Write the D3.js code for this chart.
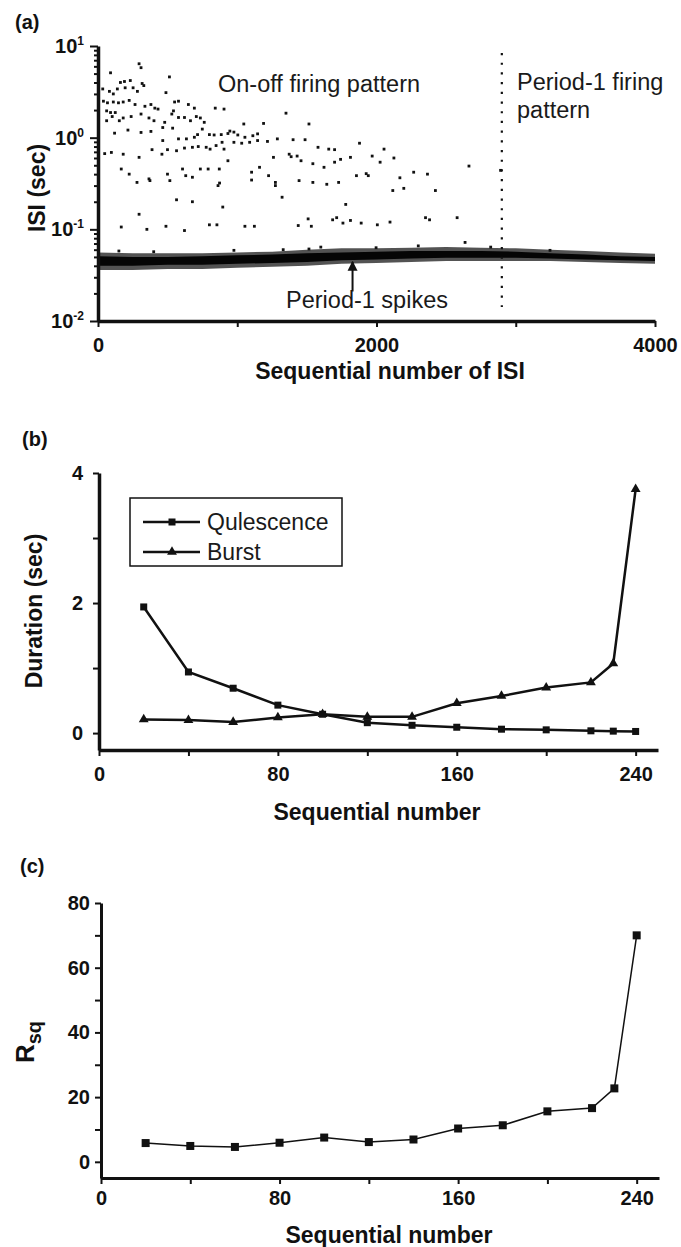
<!DOCTYPE html>
<html lang="en">
<head>
<meta charset="UTF-8" />
<title>ISI firing patterns</title>
<style>
  body { margin: 0; background: #fff; }
  svg { display: block; font-family: "Liberation Sans", Arial, sans-serif; }
  .tick text { font-weight: bold; font-size: 20px; fill: #111; }
  .axis path, .axis line { stroke: #111; }
</style>
<script src="https://d3js.org/d3.v7.min.js"></script>
</head>
<body>
<script>
// ---- panel (a): long ISIs of the on-off pattern, [sequence number, ISI (sec)]
const onOffIsi = [
  [295,6.4],[309,5.8],[90,5.1],[513,4.6],[232,4.2],[161,4.0],[190,4.1],[317,3.9],[329,3.7],[488,3.1],
  [34,3.4],[139,3.4],[82,3.2],[110,3.0],[195,3.5],[252,3.5],[283,3.2],[39,2.5],[68,2.4],[110,2.45],
  [147,2.4],[181,2.45],[224,2.55],[266,2.3],[337,2.2],[380,2.3],[408,2.1],[431,2.05],[550,2.45],[578,2.5],
  [649,2.3],[692,2.1],[842,2.1],[905,2.05],[542,1.96],[530,1.81],[62,1.96],[90,1.88],[124,1.88],[62,1.53],
  [153,1.53],[102,1.7],[181,1.64],[238,1.7],[309,1.81],[366,1.64],[402,1.53],[479,1.47],[578,1.66],[621,1.66],
  [664,1.53],[706,1.7],[735,1.64],[763,1.47],[749,1.24],[1350,1.85],[1047,1.41],[1189,1.43],[1515,1.41],[119,1.12],
  [215,1.21],[309,1.14],[380,1.17],[465,1.29],[536,1.27],[465,0.93],[578,0.97],[635,0.97],[692,1.01],[715,1.08],
  [800,1.08],[834,1.07],[885,1.08],[933,1.11],[947,1.18],[976,1.15],[1004,1.07],[1055,1.01],[1112,1.05],[1146,1.10],
  [1288,0.97],[1401,0.95],[1487,0.95],[96,0.69],[48,0.67],[181,0.66],[295,0.61],[388,0.74],[459,0.66],[499,0.74],
  [564,0.72],[621,0.77],[678,0.785],[720,0.80],[777,0.785],[805,0.75],[848,0.82],[891,0.89],[905,0.75],[976,0.89],
  [1032,0.87],[1089,0.89],[1146,0.93],[1217,0.91],[1260,0.61],[1373,0.66],[1430,0.63],[1580,0.785],[1657,0.75],[1699,0.74],
  [1387,0.62],[1458,0.56],[1543,0.52],[1623,0.475],[1699,0.54],[1742,0.58],[1813,0.61],[1878,0.87],[1969,0.63],[2026,0.54],
  [2054,0.75],[2125,0.60],[167,0.455],[224,0.40],[280,0.325],[366,0.355],[499,0.40],[516,0.34],[607,0.455],[630,0.385],
  [678,0.37],[735,0.455],[791,0.455],[862,0.30],[871,0.455],[933,0.56],[1103,0.42],[1103,0.345],[1160,0.475],[1225,0.385],
  [1274,0.325],[1274,0.30],[1444,0.34],[1543,0.325],[1643,0.31],[1728,0.325],[1856,0.385],[1926,0.405],[1941,0.385],[2168,0.365],
  [2267,0.42],[2366,0.40],[2664,0.49],[2891,0.44],[2117,0.265],[2196,0.28],[2423,0.265],[1322,0.224],
  [167,0.106],[295,0.146],[351,0.100],[488,0.108],[621,0.097],[800,0.112],[854,0.112],[1055,0.108],[1123,0.108],[1438,0.110],
  [1509,0.13],[1532,0.108],[1685,0.127],[1714,0.134],[1759,0.117],[1813,0.125],[1890,0.117],[2006,0.112],[2097,0.12],[2352,0.134],
  [2381,0.127],[2579,0.134],[1779,0.187],[564,0.21],[678,0.20],[896,0.175],[373,0.34],[873,0.32]
];

// dense period-1 band, envelope read every 250 ISIs
const bandSeq     = [0,250,500,750,1000,1250,1500,1750,2000,2250,2500,2750,3000,3250,3500,3750,4000];
const bandOuterHi = [0.056,0.055,0.055,0.055,0.056,0.057,0.060,0.062,0.062,0.063,0.064,0.063,0.062,0.060,0.058,0.056,0.054];
const bandOuterLo = [0.036,0.036,0.037,0.037,0.038,0.039,0.040,0.042,0.043,0.044,0.045,0.045,0.045,0.045,0.044,0.043,0.042];
const bandCoreHi  = [0.051,0.050,0.050,0.051,0.052,0.053,0.055,0.056,0.057,0.058,0.058,0.058,0.057,0.055,0.053,0.051,0.050];
const bandCoreLo  = [0.040,0.040,0.041,0.041,0.042,0.043,0.044,0.046,0.047,0.048,0.049,0.049,0.049,0.048,0.047,0.046,0.045];
const bandOutliers = [[150,0.058],[400,0.057],[976,0.059],[1330,0.060],[1515,0.061],[1600,0.064],[1997,0.063],
                      [2300,0.066],[2636,0.072],[2820,0.064],[3246,0.059]];

const boundarySeq = 2900;
const boundaryIsi = [8.4, 0.0142];
const arrowSeq = 1828;
const arrowIsi = [0.021, 0.0442];

const isiXTicks = [0,1000,2000,3000,4000];
const isiXLabels = [0,2000,4000];
const isiDecades = [0.01,0.1,1,10];

// ---- panel (b) and (c)
const seqNumbers = [20,40,60,80,100,120,140,160,180,200,220,230,240];
const quiescence = [1.94,0.94,0.69,0.43,0.29,0.16,0.12,0.09,0.06,0.05,0.035,0.03,0.025];
const burst      = [0.21,0.20,0.17,0.24,0.29,0.25,0.25,0.46,0.57,0.70,0.78,1.07,3.75];
const rsq        = [5.8,4.9,4.6,5.9,7.5,6.1,6.9,10.3,11.3,15.6,16.6,22.7,70.0];

const seqTicks = [0,40,80,120,160,200,240];
const seqLabels = [0,80,160,240];
const durTicks = [0,1,2,3,4];
const durLabels = [0,2,4];
const rsqTicks = [0,10,20,30,40,50,60,70,80];
const rsqLabels = [0,20,40,60,80];

const svg = d3.select("body").append("svg")
    .attr("width", 681)
    .attr("height", 1247);

function styleAxis(g, w) {
  g.attr("class", "axis");
  g.select(".domain").attr("stroke-width", w);
  g.selectAll(".tick line").attr("stroke-width", 2);
}

function panelLabel(txt, x, y) {
  svg.append("text").attr("x", x).attr("y", y)
    .attr("font-size", 20).attr("font-weight", "bold").attr("fill", "#111")
    .text(txt);
}

function xTitle(txt, x, y) {
  svg.append("text").attr("x", x).attr("y", y)
    .attr("text-anchor", "middle").attr("font-size", 23).attr("font-weight", "bold").attr("fill", "#111")
    .text(txt);
}

function yTitle(txt, x, y) {
  return svg.append("text").attr("transform", `translate(${x},${y}) rotate(-90)`)
    .attr("text-anchor", "middle").attr("font-size", 23).attr("font-weight", "bold").attr("fill", "#111")
    .text(txt);
}

// ================= (a) =================
const xA = d3.scaleLinear().domain([0, 4000]).range([98, 655]);
const yA = d3.scaleLog().domain([0.01, 10]).range([321, 46]);

panelLabel("(a)", 15, 29);

const band = bandSeq.map((s, i) => ({ seq: s, oHi: bandOuterHi[i], oLo: bandOuterLo[i], cHi: bandCoreHi[i], cLo: bandCoreLo[i] }));
svg.append("path").datum(band)
  .attr("fill", "#111").attr("opacity", 0.72)
  .attr("d", d3.area().x(d => xA(d.seq)).y0(d => yA(d.oLo)).y1(d => yA(d.oHi)));
svg.append("path").datum(band)
  .attr("fill", "#050505")
  .attr("d", d3.area().x(d => xA(d.seq)).y0(d => yA(d.cLo)).y1(d => yA(d.cHi)));

svg.append("g").selectAll("rect")
  .data(onOffIsi.concat(bandOutliers))
  .join("rect")
  .attr("x", d => xA(d[0]) - 1.4)
  .attr("y", d => yA(d[1]) - 1.4)
  .attr("width", 2.8).attr("height", 2.8)
  .attr("fill", "#111");

svg.append("path")
  .datum(boundaryIsi)
  .attr("fill", "none").attr("stroke", "#111").attr("stroke-width", 2.2)
  .attr("stroke-dasharray", "2.2,7.5")
  .attr("d", d3.line().x(() => xA(boundarySeq)).y(d => yA(d)));

svg.append("defs").append("marker")
  .attr("id", "arrowhead").attr("viewBox", "0 0 10 10")
  .attr("refX", 9).attr("refY", 5)
  .attr("markerWidth", 5).attr("markerHeight", 6)
  .attr("markerUnits", "strokeWidth").attr("orient", "auto")
  .append("path").attr("d", "M0,0L10,5L0,10Z").attr("fill", "#111");

svg.append("path")
  .datum(arrowIsi)
  .attr("fill", "none").attr("stroke", "#111").attr("stroke-width", 2)
  .attr("marker-end", "url(#arrowhead)")
  .attr("d", d3.line().x(() => xA(arrowSeq)).y(d => yA(d)));

const annot = svg.append("g").attr("font-size", 23.5).attr("fill", "#1a1a1a");
annot.append("text").attr("x", 218).attr("y", 92).text("On-off firing pattern");
annot.append("text").attr("x", 517).attr("y", 90).text("Period-1 firing");
annot.append("text").attr("x", 517).attr("y", 118).text("pattern");
annot.append("text").attr("x", 367).attr("y", 308).attr("text-anchor", "middle").text("Period-1 spikes");

const isiMinor = [];
isiDecades.slice(0, -1).forEach(d => { for (let m = 2; m <= 9; m++) isiMinor.push(d * m); });

svg.append("g").attr("transform", "translate(98,0)")
  .call(d3.axisLeft(yA).tickValues(isiMinor).tickFormat("").tickSize(4).tickSizeOuter(0))
  .call(g => g.select(".domain").remove())
  .call(g => g.selectAll(".tick line").attr("stroke", "#111").attr("stroke-width", 2));

svg.append("g").attr("transform", "translate(98,0)")
  .call(d3.axisLeft(yA).tickValues(isiDecades).tickSize(8).tickPadding(6).tickSizeOuter(0).tickFormat(""))
  .call(g => styleAxis(g, 3.5))
  .call(g => {
    const t = g.selectAll(".tick text");
    t.append("tspan").text("10");
    t.append("tspan").attr("dy", -8).attr("font-size", 12).text(d => Math.round(Math.log10(d)));
  });

svg.append("g").attr("transform", "translate(0,321)")
  .call(d3.axisBottom(xA).tickValues(isiXTicks).tickFormat(d => isiXLabels.includes(d) ? d : "")
        .tickSize(6).tickPadding(11).tickSizeOuter(0))
  .call(g => styleAxis(g, 3.5));

xTitle("Sequential number of ISI", 390, 379);
yTitle("ISI (sec)", 45, 188);

// ================= (b) =================
const xB = d3.scaleLinear().domain([0, 250]).range([99, 658]);
const yB = d3.scaleLinear().domain([-0.26, 4]).range([750, 473]);

panelLabel("(b)", 22, 446);

const durData = seqNumbers.map((s, i) => ({ seq: s, q: quiescence[i], b: burst[i] }));

svg.append("path").datum(durData)
  .attr("fill", "none").attr("stroke", "#111").attr("stroke-width", 2.5)
  .attr("d", d3.line().x(d => xB(d.seq)).y(d => yB(d.q)));
svg.append("path").datum(durData)
  .attr("fill", "none").attr("stroke", "#111").attr("stroke-width", 2.5)
  .attr("d", d3.line().x(d => xB(d.seq)).y(d => yB(d.b)));

svg.append("g").selectAll("rect").data(durData).join("rect")
  .attr("x", d => xB(d.seq) - 3.5).attr("y", d => yB(d.q) - 3.5)
  .attr("width", 7).attr("height", 7).attr("fill", "#111");

const tri = d3.symbol().type(d3.symbolTriangle).size(42);
svg.append("g").selectAll("path").data(durData).join("path")
  .attr("transform", d => `translate(${xB(d.seq)},${yB(d.b)})`)
  .attr("d", tri).attr("fill", "#111");

svg.append("g").attr("transform", "translate(99,0)")
  .call(d3.axisLeft(yB).tickValues(durTicks).tickFormat(d => durLabels.includes(d) ? d : "")
        .tickSize(6).tickPadding(10).tickSizeOuter(0))
  .call(g => styleAxis(g, 3.5));

svg.append("g").attr("transform", "translate(0,750)")
  .call(d3.axisBottom(xB).tickValues(seqTicks).tickFormat(d => seqLabels.includes(d) ? d : "")
        .tickSize(6).tickPadding(11).tickSizeOuter(0))
  .call(g => styleAxis(g, 3.5));

xTitle("Sequential number", 377, 820);
yTitle("Duration (sec)", 42, 611);

// legend
const leg = svg.append("g").attr("transform", "translate(130,498)");
leg.append("rect").attr("width", 212).attr("height", 68)
  .attr("fill", "#fff").attr("stroke", "#111").attr("stroke-width", 1.5);
const legItems = [{ name: "Qulescence", sym: "square" }, { name: "Burst", sym: "triangle" }];
legItems.forEach((it, i) => {
  const yy = 24 + i * 30;
  leg.append("line").attr("x1", 13).attr("x2", 70).attr("y1", yy).attr("y2", yy)
    .attr("stroke", "#111").attr("stroke-width", 2.5);
  if (it.sym === "square") {
    leg.append("rect").attr("x", 38.5).attr("y", yy - 3.5).attr("width", 7).attr("height", 7).attr("fill", "#111");
  } else {
    leg.append("path").attr("transform", `translate(42,${yy})`).attr("d", tri).attr("fill", "#111");
  }
  leg.append("text").attr("x", 77).attr("y", yy + 8).attr("font-size", 23).attr("fill", "#1a1a1a").text(it.name);
});

// ================= (c) =================
const xC = d3.scaleLinear().domain([0, 250]).range([101, 659]);
const yC = d3.scaleLinear().domain([-5, 80]).range([1178, 903]);

panelLabel("(c)", 20, 873);

const rsqData = seqNumbers.map((s, i) => ({ seq: s, r: rsq[i] }));

svg.append("path").datum(rsqData)
  .attr("fill", "none").attr("stroke", "#111").attr("stroke-width", 1.5)
  .attr("d", d3.line().x(d => xC(d.seq)).y(d => yC(d.r)));

svg.append("g").selectAll("rect").data(rsqData).join("rect")
  .attr("x", d => xC(d.seq) - 4).attr("y", d => yC(d.r) - 4)
  .attr("width", 8).attr("height", 8).attr("fill", "#111");

svg.append("g").attr("transform", "translate(101,0)")
  .call(d3.axisLeft(yC).tickValues(rsqTicks).tickFormat(d => rsqLabels.includes(d) ? d : "")
        .tickSize(6).tickPadding(5).tickSizeOuter(0))
  .call(g => styleAxis(g, 3));

svg.append("g").attr("transform", "translate(0,1178)")
  .call(d3.axisBottom(xC).tickValues(seqTicks).tickFormat(d => seqLabels.includes(d) ? d : "")
        .tickSize(6).tickPadding(7).tickSizeOuter(0))
  .call(g => styleAxis(g, 3));

xTitle("Sequential number", 389, 1243);

const rLabel = svg.append("text").attr("transform", "translate(34,1042) rotate(-90)")
  .attr("text-anchor", "middle").attr("font-size", 26).attr("font-weight", "bold").attr("fill", "#111");
rLabel.append("tspan").text("R");
rLabel.append("tspan").attr("dy", 7).attr("font-size", 20).text("sq");
</script>
</body>
</html>
